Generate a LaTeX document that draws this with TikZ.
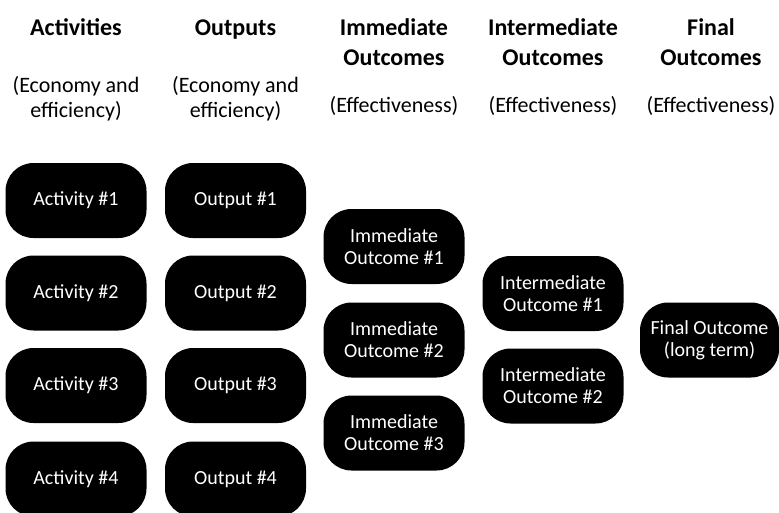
\documentclass[tikz,border=0pt]{standalone}
\usepackage{fontspec}
\setmainfont{Carlito}
\begin{document}
\begin{tikzpicture}[x=1pt, y=-1pt,
        box/.style = {fill=black, text=white, rounded corners=28pt,
            minimum width=141pt, minimum height=75pt, inner sep=0pt,
            align=center, font=\fontsize{20}{22}\selectfont},
        head/.style = {anchor=base, align=center, inner sep=0pt,
            font=\bfseries\fontsize{24}{30}\selectfont},
        sub/.style = {anchor=base, align=center, inner sep=0pt,
            font=\fontsize{22}{25}\selectfont}]
                \useasboundingbox (0,0) rectangle (779,512);
                \clip (0,0) rectangle (779,512);

                % column heads (base = last line)
                \node[head] (hact) at (76,35) {Activities};
                \node[head] (hout) at (235.5,35) {Outputs};
                \node[head] (himm) at (394,65) {Immediate\\Outcomes};
                \node[head] (hint) at (553,65) {Intermediate\\Outcomes};
                \node[head] (hfin) at (711,65) {Final\\Outcomes};

                \node[sub] (sact) at (76,117) {(Economy and\\efficiency)};
                \node[sub] (sout) at (235.5,117) {(Economy and\\efficiency)};
                \node[sub] (simm) at (394,112) {(Effectiveness)};
                \node[sub] (sint) at (553,112) {(Effectiveness)};
                \node[sub] (sfin) at (711,112) {(Effectiveness)};

                \node[box] (act1) at (76,200.5) {Activity \#1};
                \node[box] (act2) at (76,293) {Activity \#2};
                \node[box] (act3) at (76,385.5) {Activity \#3};
                \node[box] (act4) at (76,479) {Activity \#4};

                \node[box] (out1) at (235.5,200.5) {Output \#1};
                \node[box] (out2) at (235.5,293) {Output \#2};
                \node[box] (out3) at (235.5,385.5) {Output \#3};
                \node[box] (out4) at (235.5,479) {Output \#4};

                \node[box] (imm1) at (394,246.5) {Immediate\\Outcome \#1};
                \node[box] (imm2) at (394,340) {Immediate\\Outcome \#2};
                \node[box] (imm3) at (394,433) {Immediate\\Outcome \#3};

                \node[box] (int1) at (553,293.5) {Intermediate\\Outcome \#1};
                \node[box] (int2) at (553,386) {Intermediate\\Outcome \#2};

                \node[box, minimum width=139pt] (fin) at (709.5,340)
                    {Final Outcome\\(long term)};
            \end{tikzpicture}
\end{document}
